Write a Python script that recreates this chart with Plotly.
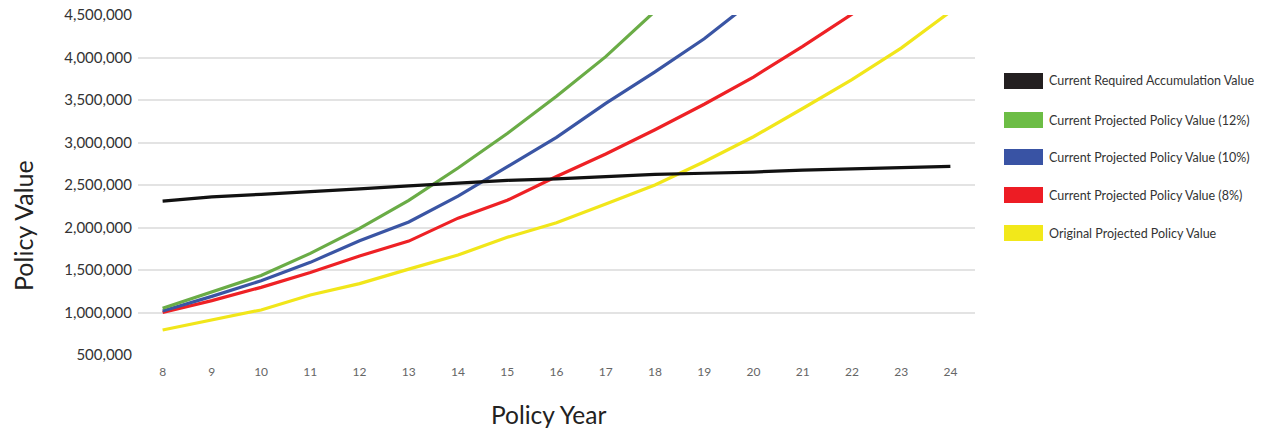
import plotly.graph_objects as go

# Policy years shown on the horizontal axis
years = list(range(8, 25))

# Projected values by policy year (values past the top of the axis are clipped)
required_accumulation = [2310000, 2360000, 2390000, 2420000, 2455000, 2490000, 2525000, 2555000,
                         2572000, 2600000, 2625000, 2638000, 2652000, 2676000, 2690000, 2703000, 2718000]
projected_12 = [1050000, 1240000, 1435000, 1695000, 1990000, 2320000, 2700000, 3105000,
                3545000, 4010000, 4530000, 5080000, 5650000, 6280000, 6950000, 7700000, 8500000]
projected_10 = [1018000, 1190000, 1374000, 1590000, 1845000, 2065000, 2370000, 2720000,
                3060000, 3460000, 3830000, 4220000, 4670000, 5130000, 5620000, 6160000, 6740000]
projected_8 = [1000000, 1140000, 1296000, 1470000, 1665000, 1840000, 2110000, 2320000,
               2600000, 2865000, 3150000, 3450000, 3770000, 4130000, 4510000, 4910000, 5350000]
original_projected = [794000, 910000, 1030000, 1206000, 1340000, 1510000, 1676000, 1885000,
                      2056000, 2276000, 2500000, 2774000, 3068000, 3400000, 3740000, 4110000, 4540000]

series_names = [
    "Current Required Accumulation Value",
    "Current Projected Policy Value (12%)",
    "Current Projected Policy Value (10%)",
    "Current Projected Policy Value (8%)",
    "Original Projected Policy Value",
]
series_values = [required_accumulation, projected_12, projected_10, projected_8, original_projected]
line_colors = ["#111111", "#6aac46", "#3a55a4", "#ee2125", "#f1e61a"]
swatch_colors = ["#231f20", "#6cbd45", "#3953a4", "#ed1c24", "#f2e81a"]

y_ticks = list(range(500000, 4500001, 500000))

FONT = "Lato, 'Open Sans', sans-serif"

fig = go.Figure()

# Yellow drawn first, black last so it sits on top
draw_order = [4, 3, 2, 1, 0]
for i in draw_order:
    fig.add_trace(go.Scatter(
        x=years, y=series_values[i], name=series_names[i], mode="lines",
        line=dict(color=line_colors[i], width=3.2),
        showlegend=False,
    ))

W, H = 1262, 431
L, R, T, B = 138, 287, 15, 76
pw, ph = W - L - R, H - T - B

# Custom legend: coloured rectangles with labels on the right
legend_y = [81, 120, 157, 195, 233]
shapes = []
annotations = []
for name, col, yc in zip(series_names, swatch_colors, legend_y):
    x0 = (1004 - L) / pw
    x1 = (1043 - L) / pw
    y0 = 1 - (yc - 8 - T) / ph
    y1 = 1 - (yc + 8 - T) / ph
    shapes.append(dict(type="rect", xref="paper", yref="paper", x0=x0, x1=x1, y0=y0, y1=y1,
                       fillcolor=col, line=dict(width=0)))
    annotations.append(dict(xref="paper", yref="paper", x=(1047 - L) / pw, y=1 - (yc - T) / ph,
                            text=name, showarrow=False, xanchor="left", yanchor="middle",
                            font=dict(family=FONT, size=12.5, color="#333333")))

# Axis titles
annotations.append(dict(xref="paper", yref="paper", x=(23 - L) / pw, y=1 - (226 - T) / ph,
                        text="Policy Value", textangle=-90, showarrow=False,
                        xanchor="center", yanchor="middle",
                        font=dict(family=FONT, size=25, color="#222222")))
annotations.append(dict(xref="paper", yref="paper", x=(548 - L) / pw, y=1 - (414 - T) / ph,
                        text="Policy Year", showarrow=False,
                        xanchor="center", yanchor="middle",
                        font=dict(family=FONT, size=24.5, color="#222222")))

fig.update_layout(
    width=W, height=H,
    margin=dict(l=L, r=R, t=T, b=B, autoexpand=False),
    paper_bgcolor="white", plot_bgcolor="white",
    shapes=shapes, annotations=annotations,
    font=dict(family=FONT),
)
fig.update_xaxes(
    range=[7.5, 24.5], tickvals=years, ticktext=[str(y) for y in years],
    showgrid=False, zeroline=False, showline=False, ticks="", automargin=False,
    tickfont=dict(family=FONT, size=12, color="#666666"), ticklabelstandoff=8,
)
fig.update_yaxes(
    range=[500000, 4500000], tickvals=y_ticks, ticktext=[f"{v:,}" for v in y_ticks],
    showgrid=True, gridcolor="#e3e3e3", gridwidth=1.5, zeroline=False, showline=False,
    ticks="", automargin=False,
    tickfont=dict(family=FONT, size=15, color="#333333"), ticklabelstandoff=5,
)

fig.write_html("out.html")
